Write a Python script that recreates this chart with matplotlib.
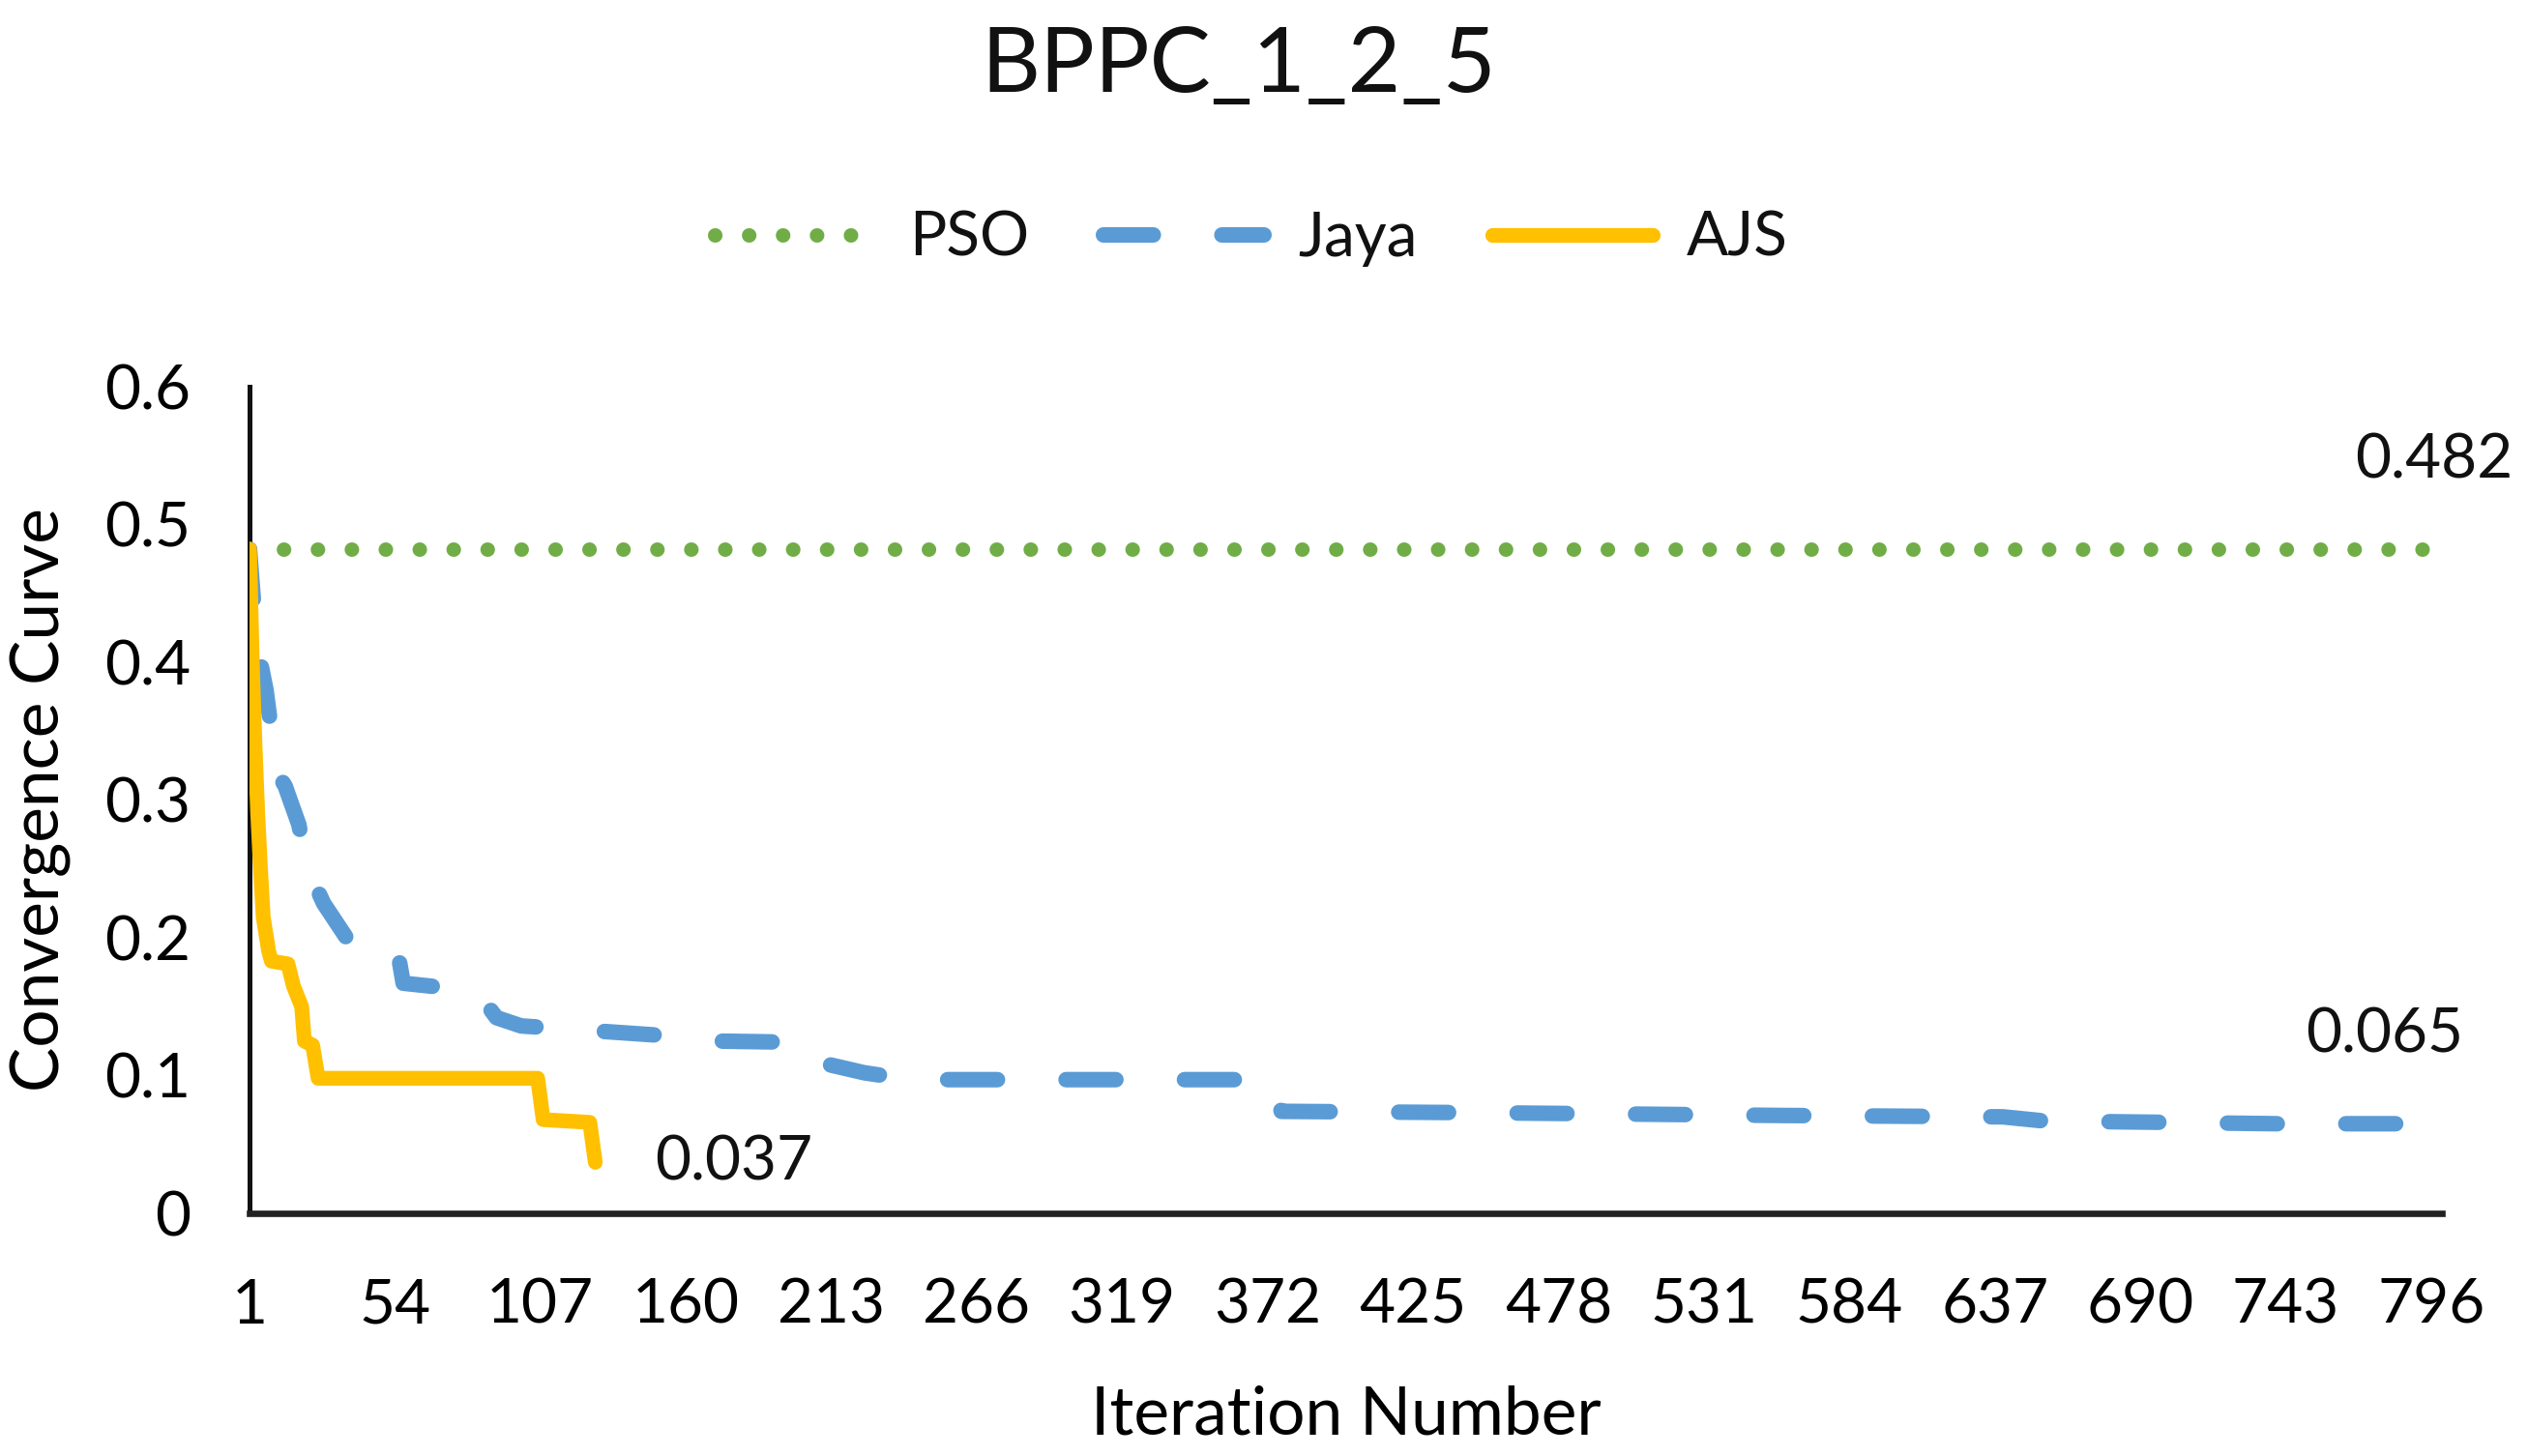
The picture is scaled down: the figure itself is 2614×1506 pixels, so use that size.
import matplotlib
matplotlib.use("Agg")
import matplotlib.pyplot as plt

# convergence data (iteration, objective)
pso_iter = [1, 800]
pso_val = [0.482, 0.482]

jaya_iter = [1, 3, 5, 7, 9, 11, 14, 19, 22, 25, 28, 33, 38, 46, 55, 57, 76, 86, 88,
             91, 100, 130, 152, 171, 205, 208, 212, 225, 242, 373, 375, 377, 450,
             560, 640, 655, 700, 740, 788]
jaya_val = [0.482, 0.43, 0.40, 0.38, 0.35, 0.32, 0.31, 0.282, 0.25, 0.238, 0.225,
            0.21, 0.195, 0.191, 0.19, 0.167, 0.163, 0.158, 0.15, 0.142, 0.136,
            0.132, 0.129, 0.125, 0.124, 0.118, 0.108, 0.102, 0.097, 0.097, 0.085,
            0.074, 0.073, 0.071, 0.070, 0.067, 0.066, 0.065, 0.065]

ajs_iter = [1, 2, 3, 4, 5, 6, 8, 9, 15, 17, 20, 21, 24, 26, 106, 108, 125, 127]
ajs_val = [0.482, 0.40, 0.34, 0.29, 0.25, 0.215, 0.19, 0.183, 0.181, 0.165, 0.15,
           0.125, 0.122, 0.098, 0.098, 0.068, 0.066, 0.037]

xticks = list(range(1, 797, 53))
yticks = [0, 0.1, 0.2, 0.3, 0.4, 0.5, 0.6]

GREEN = "#70AD47"
BLUE = "#5B9BD5"
GOLD = "#FFC000"

plt.rcParams["font.family"] = ["Lato", "DejaVu Sans"]
plt.rcParams["text.color"] = "#111111"

fig = plt.figure(figsize=(13.07, 7.53), dpi=200)
ax = fig.add_axes([0.0987, 0.1667, 0.8673, 0.5677])

l_pso, = ax.plot(pso_iter, pso_val, color=GREEN, lw=5.4, dashes=(0.01, 2.33),
                 dash_capstyle="round", label="PSO", zorder=3)
l_jaya, = ax.plot(jaya_iter, jaya_val, color=BLUE, lw=5.8, dashes=(3.2, 4.4),
                  dash_capstyle="round", dash_joinstyle="round", label="Jaya", zorder=4)
l_ajs, = ax.plot(ajs_iter, ajs_val, color=GOLD, lw=5.5, solid_capstyle="round",
                 solid_joinstyle="round", label="AJS", zorder=5)

# end-of-series value labels
ax.annotate(f"{pso_val[-1]:.3f}", xy=(pso_iter[-1], pso_val[-1]), xytext=(-3, 33),
            textcoords="offset points", ha="center", va="center", fontsize=23)
ax.annotate(f"{jaya_val[-1]:.3f}", xy=(jaya_iter[-1], jaya_val[-1]), xytext=(-9, 33),
            textcoords="offset points", ha="center", va="center", fontsize=23)
ax.annotate(f"{ajs_val[-1]:.3f}", xy=(ajs_iter[-1], ajs_val[-1]), xytext=(22, 0),
            textcoords="offset points", ha="left", va="center", fontsize=23)

ax.set_xlim(1, 800)
ax.set_ylim(0, 0.6)
ax.set_xticks(xticks)
ax.set_xticklabels([str(t) for t in xticks])
ax.set_yticks(yticks)
ax.set_yticklabels(["0" if t == 0 else f"{t:.1f}" for t in yticks])
ax.tick_params(axis="both", length=0, labelsize=23)
ax.tick_params(axis="x", pad=24)
ax.tick_params(axis="y", pad=22)

for side in ["top", "right"]:
    ax.spines[side].set_visible(False)
ax.spines["left"].set_linewidth(1.8)
ax.spines["left"].set_color("#111111")
ax.spines["bottom"].set_linewidth(2.4)
ax.spines["bottom"].set_color("#222222")

ax.set_xlabel("Iteration Number", fontsize=25, labelpad=19)
ax.set_ylabel("Convergence Curve", fontsize=25, labelpad=12)

fig.text(0.49, 0.954, "BPPC_1_2_5", ha="center", va="center", fontsize=34)

fig.legend(handles=[l_pso, l_jaya, l_ajs], loc="center", bbox_to_anchor=(0.495, 0.836),
           ncol=3, frameon=False, fontsize=23, handlelength=2.6, handletextpad=0.55,
           columnspacing=1.2)

fig.savefig("out.png", dpi=200, facecolor="white")
